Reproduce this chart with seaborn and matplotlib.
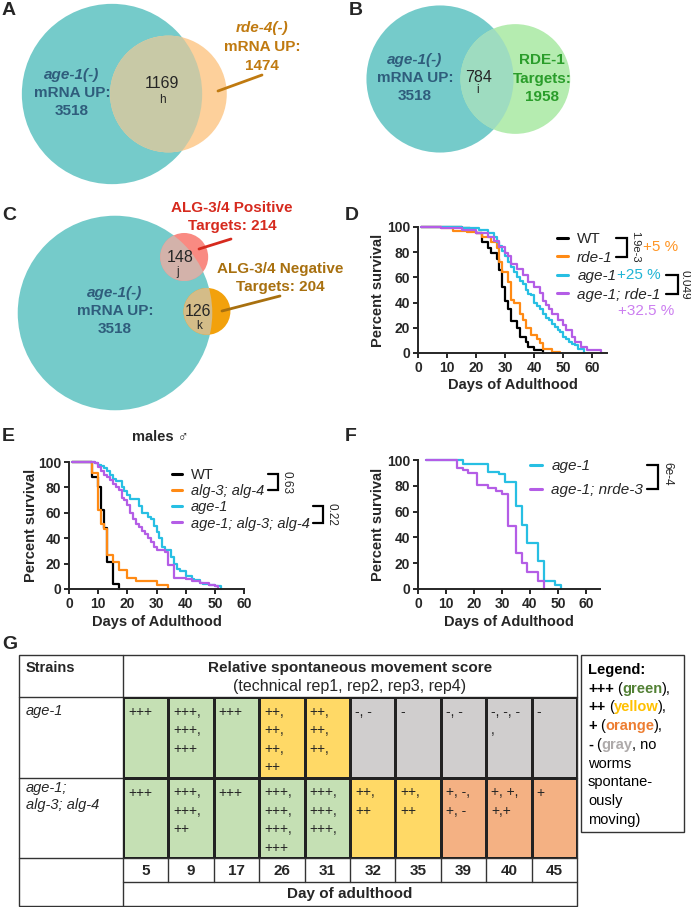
import numpy as np
import pandas as pd
import matplotlib
matplotlib.use("Agg")
import matplotlib.pyplot as plt
from matplotlib.patches import Circle, Rectangle
from matplotlib.colors import ListedColormap
import seaborn as sns

# ---------------------------
# Venn counts (A, B, C)
# ---------------------------
age1_up = 3518
rde4_up = 1474
age1_rde4 = 1169
rde1_targets = 1958
age1_rde1 = 784
alg_pos = 214
age1_alg_pos = 148
alg_neg = 204
age1_alg_neg = 126

# ---------------------------
# Survival curves: day, percent alive (D, E, F)
# ---------------------------
d_wt_day = [1, 15, 18, 20, 22, 24, 25, 27, 28, 29, 30, 31, 32, 34, 35, 37, 38, 40, 43]
d_wt_pct = [100, 99, 97, 95, 88, 83, 79, 75, 66, 52, 41, 35, 25, 20, 13, 9, 5, 2, 0]
d_rde1_day = [1, 8, 12, 17, 20, 22, 25, 27, 28, 29, 31, 32, 33, 35, 36, 37, 39, 41, 42, 43, 46, 49]
d_rde1_pct = [100, 99, 97, 96, 95, 92, 88, 83, 72, 64, 56, 42, 40, 31, 26, 20, 14, 11, 8, 3, 1, 0]
d_age1_day = [1, 15, 21, 24, 26, 27, 28, 29, 30, 31, 32, 33, 34, 35, 36, 37, 38, 39, 40, 41,
              42, 43, 44, 45, 46, 47, 48, 49, 50, 51, 52, 53, 54, 55, 57]
d_age1_pct = [100, 99, 98, 95, 92, 88, 85, 81, 77, 72, 68, 64, 60, 57, 55, 50, 47, 46, 40, 37,
              35, 31, 28, 26, 23, 21, 18, 17, 13, 11, 9, 7, 6, 3, 0]
d_dbl_day = [1, 8, 15, 20, 24, 26, 28, 30, 31, 32, 34, 36, 38, 40, 42, 43, 44, 45, 46, 48,
             50, 51, 53, 54, 56, 58, 63]
d_dbl_pct = [100, 99, 98, 95, 92, 89, 84, 79, 77, 71, 67, 62, 56, 52, 48, 41, 38, 35, 31, 26,
             22, 18, 13, 9, 5, 2, 0]

e_wt_day = [1, 8, 10, 11, 12, 13, 15, 17]
e_wt_pct = [100, 88, 80, 62, 48, 21, 4, 0]
e_alg_day = [1, 8, 10, 11, 12, 13, 15, 17, 20, 23, 30, 34]
e_alg_pct = [100, 91, 62, 51, 47, 27, 21, 15, 9, 6, 3, 0]
e_age1_day = [1, 9, 10, 11, 12, 13, 14, 15, 16, 18, 19, 20, 21, 24, 25, 27, 28, 29, 30, 31,
              32, 33, 35, 36, 37, 38, 40, 42, 43, 45, 46, 48, 50, 52]
e_age1_pct = [100, 99, 98, 97, 95, 93, 90, 87, 85, 80, 77, 74, 71, 65, 60, 57, 55, 50, 45, 40,
              33, 31, 25, 20, 16, 14, 10, 8, 7, 5, 4, 3, 2, 0]
e_tri_day = [1, 9, 10, 11, 12, 13, 14, 15, 16, 17, 18, 19, 20, 21, 22, 23, 24, 25, 26, 27,
             28, 29, 30, 33, 34, 36, 40, 42, 45, 48, 50, 51]
e_tri_pct = [100, 99, 96, 93, 90, 88, 86, 83, 80, 78, 72, 70, 66, 60, 55, 51, 49, 46, 43, 40,
             37, 33, 31, 29, 19, 9, 8, 6, 5, 3, 2, 0]

f_age1_day = [3, 16, 25, 29, 31, 35, 37, 39, 43, 45, 49, 51]
f_age1_pct = [100, 97, 91, 89, 83, 64, 50, 36, 22, 6, 3, 0]
f_nrde3_day = [3, 14, 16, 18, 21, 25, 28, 30, 32, 35, 37, 39, 43, 45]
f_nrde3_pct = [100, 94, 92, 90, 81, 78, 76, 74, 49, 28, 20, 13, 6, 0]

# ---------------------------
# Movement score table (G): 3 = +++, 2 = ++, 1 = +, 0 = -
# ---------------------------
g_days = [5, 9, 17, 26, 31, 32, 35, 39, 40, 45]
g_strains = ["age-1", "age-1;\nalg-3; alg-4"]
g_score_age1 = [3, 3, 3, 2, 2, 0, 0, 0, 0, 0]
g_score_triple = [3, 3, 3, 3, 3, 2, 2, 1, 1, 1]
g_marks_age1 = ["+++", "+++,\n+++,\n+++", "+++", "++,\n++,\n++,\n++", "++,\n++,\n++,",
                "-, -", "-", "-, -", "-, -, -\n,", "-"]
g_marks_triple = ["+++", "+++,\n+++,\n++", "+++", "+++,\n+++,\n+++,\n+++", "+++,\n+++,\n+++,",
                  "++,\n++", "++,\n++", "+, -,\n+, -", "+, +,\n+,+", "+"]

# colours
TEAL = "#75cbca"
BLACK, ORANGE, CYAN, PURPLE = "#000000", "#ff8a14", "#27bfe3", "#b45de6"
CELL = ["#d0cece", "#f4b183", "#ffd966", "#c5e0b4"]

sns.set_style("ticks")
plt.rcParams["font.family"] = ["Liberation Sans", "DejaVu Sans"]

W, H = 691, 907
fig = plt.figure(figsize=(W / 100, H / 100), dpi=100)

# overlay axes in pixel units for venns, annotations and the table frame
ov = fig.add_axes([0, 0, 1, 1])
ov.set_xlim(0, W)
ov.set_ylim(H, 0)
ov.axis("off")


def txt(x, y, s, **kw):
    kw.setdefault("ha", "center")
    kw.setdefault("va", "center")
    kw.setdefault("zorder", 5)
    return ov.text(x, y, s, **kw)


# ---------------------------
# Venn diagrams
# ---------------------------
def lens_area(r1, r2, d):
    if d >= r1 + r2:
        return 0.0
    if d <= abs(r1 - r2):
        return np.pi * min(r1, r2) ** 2
    a1 = r1 ** 2 * np.arccos((d * d + r1 * r1 - r2 * r2) / (2 * d * r1))
    a2 = r2 ** 2 * np.arccos((d * d + r2 * r2 - r1 * r1) / (2 * d * r2))
    a3 = 0.5 * np.sqrt((-d + r1 + r2) * (d + r1 - r2) * (d - r1 + r2) * (d + r1 + r2))
    return a1 + a2 - a3


def centre_gap(r1, r2, area):
    lo, hi = abs(r1 - r2), r1 + r2
    for _ in range(60):
        mid = (lo + hi) / 2
        if lens_area(r1, r2, mid) > area:
            lo = mid
        else:
            hi = mid
    return (lo + hi) / 2


def venn(cx, cy, k, n_big, others):
    rb = k * np.sqrt(n_big)
    big = Circle((cx, cy), rb, fc=TEAL, ec="none", zorder=1)
    ov.add_patch(big)
    for n, shared, ang, fc, lens in others:
        rs = k * np.sqrt(n)
        d = centre_gap(rb, rs, np.pi * k * k * shared)
        sx = cx + d * np.cos(np.radians(ang))
        sy = cy + d * np.sin(np.radians(ang))
        ov.add_patch(Circle((sx, sy), rs, fc=fc, ec="none", zorder=2))
        lp = Circle((sx, sy), rs, fc=lens, ec="none", zorder=3)
        ov.add_patch(lp)
        lp.set_clip_path(big)


VS = 11
AGE_COL = "#2f5d7c"
venn(112, 94, 1.52, age1_up, [(rde4_up, age1_rde4, 0, "#fdd09b", "#c8c9a6")])
venn(440, 79, 1.24, age1_up, [(rde1_targets, age1_rde1, 0, "#b5ecb0", "#9edcc0")])
venn(115, 313, 1.64, age1_up, [(alg_pos, age1_alg_pos, -39, "#f98a82", "#d3b2aa"),
                               (alg_neg, age1_alg_neg, -1, "#f2a10c", "#d4bc88")])

for cx, cy in [(72, 75), (415, 60), (115, 293)]:
    txt(cx, cy, "age-1(-)", fontsize=VS, fontweight="bold", style="italic", color=AGE_COL)
    txt(cx, cy + 18, "mRNA UP:", fontsize=VS, fontweight="bold", color=AGE_COL)
    txt(cx, cy + 36, str(age1_up), fontsize=VS, fontweight="bold", color=AGE_COL)

RDE4_COL = "#c07a10"
txt(262, 28, "rde-4(-)", fontsize=VS, fontweight="bold", style="italic", color=RDE4_COL)
txt(262, 47, "mRNA UP:", fontsize=VS, fontweight="bold", color=RDE4_COL)
txt(262, 66, str(rde4_up), fontsize=VS, fontweight="bold", color=RDE4_COL)
ov.plot([218, 262], [91, 75], color=RDE4_COL, lw=2, zorder=5)
txt(162, 83, str(age1_rde4), fontsize=11.5)
txt(162, 100, "h", fontsize=8.5)

RDE1_COL = "#2a9d2a"
txt(542, 60, "RDE-1", fontsize=VS, fontweight="bold", color=RDE1_COL)
txt(542, 79, "Targets:", fontsize=VS, fontweight="bold", color=RDE1_COL)
txt(542, 97, str(rde1_targets), fontsize=VS, fontweight="bold", color=RDE1_COL)
txt(479, 77, str(age1_rde1), fontsize=11.5)
txt(478, 90, "i", fontsize=8.5)

POS_COL, NEG_COL = "#d62a1e", "#a8700f"
txt(232, 208, "ALG-3/4 Positive", fontsize=VS, fontweight="bold", color=POS_COL)
txt(232, 226, f"Targets: {alg_pos}", fontsize=VS, fontweight="bold", color=POS_COL)
ov.plot([199, 231], [249, 239], color=POS_COL, lw=2, zorder=5)
txt(280, 269, "ALG-3/4 Negative", fontsize=VS, fontweight="bold", color=NEG_COL)
txt(280, 287, f"Targets: {alg_neg}", fontsize=VS, fontweight="bold", color=NEG_COL)
ov.plot([222, 280], [311, 296], color=NEG_COL, lw=2, zorder=5)
txt(180, 258, str(age1_alg_pos), fontsize=11.5)
txt(178, 272, "j", fontsize=8.5)
txt(198, 312, str(age1_alg_neg), fontsize=11.5)
txt(199, 326, "k", fontsize=8.5)

# ---------------------------
# Survival panels
# ---------------------------
def survival(rect, curves, palette, xmax, ylab_x, xlab_y, leg_xy, leg_size, spacing, hlen):
    l, t, r, b = rect
    ax = fig.add_axes([l / W, 1 - b / H, (r - l) / W, (b - t) / H])
    df = pd.concat([pd.DataFrame({"day": dd, "pct": pp, "strain": name})
                    for name, (dd, pp) in curves.items()])
    sns.lineplot(data=df, x="day", y="pct", hue="strain", hue_order=list(curves),
                 palette=palette, estimator=None, sort=False, drawstyle="steps-post",
                 linewidth=1.6, clip_on=False, ax=ax)
    ax.set_xlim(0, xmax)
    ax.set_ylim(0, 100)
    ax.set_xticks(range(0, 61, 10))
    ax.set_yticks(range(0, 101, 20))
    sns.despine(ax=ax)
    for s in ["left", "bottom"]:
        ax.spines[s].set_linewidth(1.4)
    ax.tick_params(width=1.4, length=3.5, labelsize=10, pad=2)
    for lab in ax.get_xticklabels() + ax.get_yticklabels():
        lab.set_fontweight("bold")
    ax.set_xlabel("Days of Adulthood", fontsize=10.5, fontweight="bold", va="center")
    ax.set_ylabel("Percent survival", fontsize=10.5, fontweight="bold", va="center")
    ax.yaxis.set_label_coords((ylab_x - l) / (r - l), 0.5)
    ax.xaxis.set_label_coords(0.5, (b - xlab_y) / (b - t))
    sns.move_legend(ax, "upper left",
                    bbox_to_anchor=((leg_xy[0] - l) / (r - l), (b - leg_xy[1]) / (b - t)),
                    frameon=False, title=None, fontsize=leg_size, handlelength=hlen,
                    handletextpad=0.6, labelspacing=spacing, borderpad=0, borderaxespad=0)
    leg = ax.get_legend()
    for tt in leg.get_texts():
        if tt.get_text() != "WT":
            tt.set_fontstyle("italic")
    for hh in leg.legend_handles:
        hh.set_linewidth(2.2)
    return ax, leg


ax_d, leg_d = survival((418, 227, 607, 353),
                       {"WT": (d_wt_day, d_wt_pct), "rde-1": (d_rde1_day, d_rde1_pct),
                        "age-1": (d_age1_day, d_age1_pct),
                        "age-1; rde-1": (d_dbl_day, d_dbl_pct)},
                       [BLACK, ORANGE, CYAN, PURPLE], 65, 378, 385, (557, 232), 11, 0.30, 0.72)
ax_e, leg_e = survival((69, 462, 244, 589),
                       {"WT": (e_wt_day, e_wt_pct), "alg-3; alg-4": (e_alg_day, e_alg_pct),
                        "age-1": (e_age1_day, e_age1_pct),
                        "age-1; alg-3; alg-4": (e_tri_day, e_tri_pct)},
                       [BLACK, ORANGE, CYAN, PURPLE], 60, 31, 622, (172, 468), 10.5, 0.15, 0.7)
ax_f, leg_f = survival((418, 460, 600, 589),
                       {"age-1": (f_age1_day, f_age1_pct),
                        "age-1; nrde-3": (f_nrde3_day, f_nrde3_pct)},
                       [CYAN, PURPLE], 65, 378, 622, (530, 459), 11, 0.65, 0.8)

txt(160, 437, "males \u2642", fontsize=10.5, fontweight="bold")

# ---------------------------
# Table (G)
# ---------------------------
tl, tt_, tr, tb = 19, 655, 577, 906
hl, ht, hr, hb = 123, 697, 577, 858
hax = fig.add_axes([hl / W, 1 - hb / H, (hr - hl) / W, (hb - ht) / H])
scores = np.array([g_score_age1, g_score_triple])
sns.heatmap(scores, ax=hax, cmap=ListedColormap(CELL), vmin=-0.5, vmax=3.5, cbar=False,
            linewidths=0.8, linecolor="#222222", xticklabels=g_days, yticklabels=False)
hax.tick_params(axis="x", length=0, pad=4)
for lab in hax.get_xticklabels():
    lab.set_fontweight("bold")
    lab.set_fontsize(11)
    lab.set_rotation(0)
col_w = (hr - hl) / len(g_days)
row_h = (hb - ht) / len(g_strains)
for i, row in enumerate([g_marks_age1, g_marks_triple]):
    for j, s in enumerate(row):
        hax.text(j + 5 / col_w, i + 8 / row_h, s, ha="left", va="top", fontsize=10,
                 linespacing=1.4)

LC = "#333333"
ov.add_patch(Rectangle((tl, tt_), tr - tl, tb - tt_, fill=False, ec=LC, lw=1, zorder=4))
for y in [ht, ht + row_h, hb]:
    ov.plot([tl, tr], [y, y], color=LC, lw=1, zorder=4)
ov.plot([hl, tr], [882, 882], color=LC, lw=1, zorder=4)
ov.plot([hl, hl], [tt_, tb], color=LC, lw=1, zorder=4)
for j in range(1, len(g_days)):
    ov.plot([hl + j * col_w] * 2, [hb, 882], color=LC, lw=1, zorder=4)

txt(26, 668, "Strains", ha="left", fontsize=10.5, fontweight="bold")
txt(350, 668, "Relative spontaneous movement score", fontsize=11, fontweight="bold")
txt(350, 686, "(technical rep1, rep2, rep3, rep4)", fontsize=11.5)
txt(26, 704, g_strains[0], ha="left", va="top", fontsize=10.5, style="italic")
txt(26, 781, g_strains[1], ha="left", va="top", fontsize=10.5, style="italic", linespacing=1.3)
txt(350, 894, "Day of adulthood", fontsize=11, fontweight="bold")

# legend box
ov.add_patch(Rectangle((581, 655), 103, 177, fill=False, ec=LC, lw=1, zorder=4))
fig.canvas.draw()
renderer = fig.canvas.get_renderer()


def rich_line(x, y, pieces, size=10.5):
    for s, color, weight in pieces:
        if s.startswith(" "):
            x += 3.5
            s = s.lstrip()
        t = txt(x, y, s, ha="left", va="baseline", color=color, fontweight=weight,
                fontsize=size)
        x += t.get_window_extent(renderer).width


GRN, YEL, ORG, GRY = "#538135", "#ffc000", "#ed7d31", "#aeaaaa"
legend_lines = [
    [("Legend:", "k", "bold")],
    [("+++", "k", "bold"), (" (", "k", "normal"), ("green", GRN, "bold"), ("),", "k", "normal")],
    [("++", "k", "bold"), (" (", "k", "normal"), ("yellow", YEL, "bold"), ("),", "k", "normal")],
    [("+", "k", "bold"), (" (", "k", "normal"), ("orange", ORG, "bold"), ("),", "k", "normal")],
    [("-", "k", "bold"), (" (", "k", "normal"), ("gray", GRY, "bold"), (", no", "k", "normal")],
    [("worms", "k", "normal")],
    [("spontane-", "k", "normal")],
    [("ously", "k", "normal")],
    [("moving)", "k", "normal")],
]
for n, pieces in enumerate(legend_lines):
    rich_line(588, 674 + n * 18.7, pieces)

# ---------------------------
# Brackets, p-values and lifespan changes
# ---------------------------
def row_y(t):
    bb = t.get_window_extent(renderer)
    return H - (bb.y0 + bb.y1) / 2 - 1


def bracket(x_in, x_out, y1, y2):
    ov.plot([x_in, x_out, x_out, x_in], [y1, y1, y2, y2], color="k", lw=1.6, zorder=5,
            solid_joinstyle="miter")


dt = leg_d.get_texts()
bracket(616, 627, row_y(dt[0]), row_y(dt[1]))
txt(635, (row_y(dt[0]) + row_y(dt[1])) / 2, "1.9e-3", rotation=-90, fontsize=8)
bracket(666, 678, row_y(dt[2]), row_y(dt[3]))
txt(685, (row_y(dt[2]) + row_y(dt[3])) / 2, "0.049", rotation=-90, fontsize=8.5)
txt(643, (row_y(dt[0]) + row_y(dt[1])) / 2, "+5 %", ha="left", fontsize=11, color="#ff9626")
ex = dt[2].get_window_extent(renderer)
txt(ex.x1 + 0.5, row_y(dt[2]), "+25 %", ha="left", fontsize=11, color="#22b5d5")
txt(618, row_y(dt[3]) + 17, "+32.5 %", ha="left", fontsize=11, color="#cc7ff0")

et = leg_e.get_texts()
bracket(268, 278, row_y(et[0]), row_y(et[1]))
txt(287, (row_y(et[0]) + row_y(et[1])) / 2, "0.63", rotation=-90, fontsize=8.5)
bracket(313, 323, row_y(et[2]), row_y(et[3]))
txt(332, (row_y(et[2]) + row_y(et[3])) / 2, "0.22", rotation=-90, fontsize=8.5)

ft = leg_f.get_texts()
bracket(647, 658, row_y(ft[0]), row_y(ft[1]))
txt(667, row_y(ft[0]) + 9, "6e-4", rotation=-90, fontsize=8.5)

# panel letters
for s, x, y in [("A", 2, 2), ("B", 349, 2), ("C", 2, 207), ("D", 345, 207),
                ("E", 2, 428), ("F", 345, 428), ("G", 2, 636)]:
    txt(x, y, s, ha="left", va="top", fontsize=14, fontweight="bold")

fig.savefig("out.png", dpi=100)
